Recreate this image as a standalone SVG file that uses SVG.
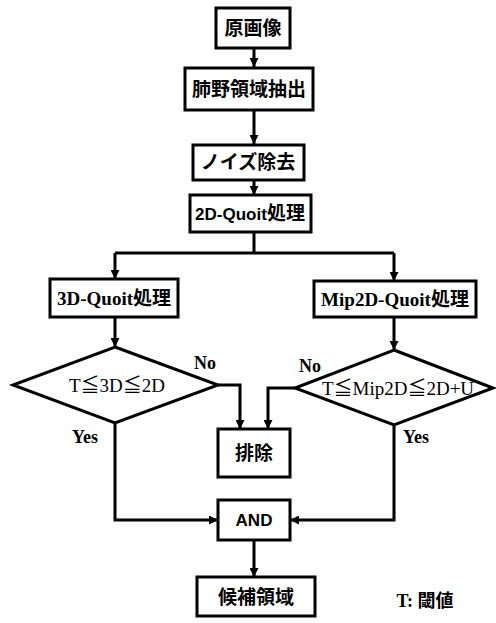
<svg xmlns="http://www.w3.org/2000/svg" width="496" height="623" viewBox="0 0 496 623">
<defs>
<marker id="ah" viewBox="0 0 10 10" refX="10" refY="5" markerWidth="9" markerHeight="9" markerUnits="userSpaceOnUse" orient="auto">
<path d="M0,0 L10,5 L0,10 z" fill="#000"/>
</marker>
<style>
.box{fill:#fff;stroke:#000;stroke-width:3}
.dia{fill:#fff;stroke:#000;stroke-width:3;stroke-linejoin:miter}
.t{font-family:"Liberation Serif","Noto Sans CJK JP",serif;font-size:19px;font-weight:bold;text-anchor:middle;fill:#000}
.s{font-family:"Liberation Sans","Noto Sans CJK JP",sans-serif;font-size:17px;font-weight:bold;text-anchor:middle;fill:#000}
.d{font-family:"Liberation Serif","Noto Sans CJK JP",serif;font-size:19px;text-anchor:middle;fill:#000}
.lbl{font-family:"Liberation Serif",serif;font-size:18px;font-weight:bold;fill:#000}
.c{fill:none;stroke:#000;stroke-width:3;marker-end:url(#ah)}
.cn{fill:none;stroke:#000;stroke-width:3}
</style>
</defs>
<g id="connectors">
<path class="c" d="M254,48 V67"/>
<path class="c" d="M254,110 V144"/>
<path class="c" d="M254,180 V195"/>
<path class="cn" d="M254,232 V253"/>
<path class="cn" d="M115,253 H394"/>
<path class="c" d="M115,253 V279"/>
<path class="c" d="M394,253 V281"/>
<path class="c" d="M115,317 V347"/>
<path class="c" d="M394,317 V350"/>
<path class="c" d="M218,385 H240 V429"/>
<path class="c" d="M295,388 H268 V429"/>
<path class="c" d="M115,423 V520 H218"/>
<path class="c" d="M394,425 V520 H290"/>
<path class="c" d="M254,540 V577"/>
</g>
<g id="n1"><rect class="box" x="216" y="8" width="74" height="40"/><text class="t" x="253" y="35">原画像</text></g>
<g id="n2"><rect class="box" x="185" y="68" width="128" height="42"/><text class="t" x="249" y="96">肺野領域抽出</text></g>
<g id="n3"><rect class="box" x="193" y="145" width="111" height="35"/><text class="t" x="248" y="169">ノイズ除去</text></g>
<g id="n4"><rect class="box" x="190" y="195" width="121" height="37"/><text class="t" x="250" y="220"><tspan font-family="Liberation Sans,sans-serif" font-size="17">2D-Quoit</tspan>処理</text></g>
<g id="n5"><rect class="box" x="50" y="279" width="128" height="38"/><text class="t" x="114" y="305">3D-Quoit処理</text></g>
<g id="n6"><rect class="box" x="314" y="281" width="162" height="36"/><text class="t" x="395" y="306">Mip2D-Quoit処理</text></g>
<g id="n7"><path class="dia" d="M115,347 L218,385 L115,423 L13,385 Z"/><text class="d" x="117" y="392">T≦3D≦2D</text></g>
<g id="n8"><path class="dia" d="M394,350 L493,388 L394,425 L295,388 Z"/><text class="d" x="398" y="395">T≦Mip2D≦2D+U</text></g>
<g id="n9"><rect class="box" x="218" y="429" width="72" height="48"/><text class="t" x="254" y="460">排除</text></g>
<g id="n10"><rect class="box" x="218" y="500" width="72" height="40"/><text class="s" x="254" y="526">AND</text></g>
<g id="n11"><rect class="box" x="197" y="577" width="118" height="39"/><text class="t" x="256" y="604">候補領域</text></g>
<text class="lbl" x="194" y="369">No</text>
<text class="lbl" x="299" y="372">No</text>
<text class="lbl" x="72" y="443">Yes</text>
<text class="lbl" x="403" y="443">Yes</text>
<text class="t" x="425" y="607" style="font-size:18px">T: 閾値</text>
</svg>
